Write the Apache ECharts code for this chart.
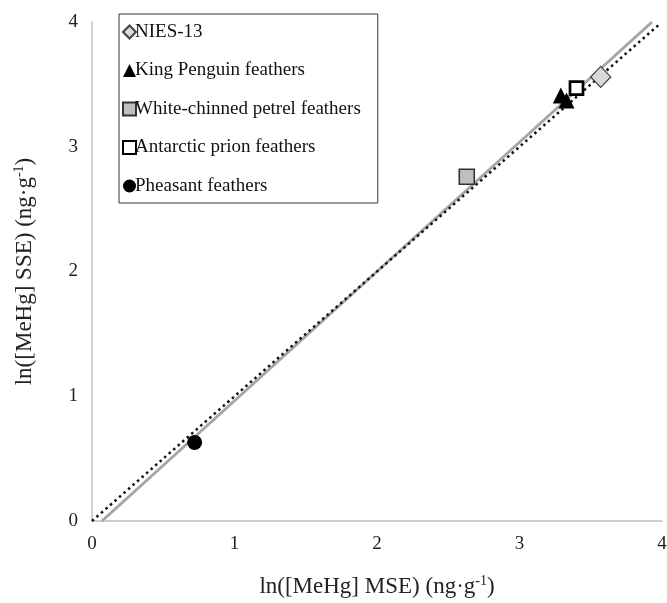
<!DOCTYPE html>
<html><head><meta charset="utf-8">
<script src="https://cdn.jsdelivr.net/npm/echarts@6/dist/echarts.min.js"></script>
<style>html,body{margin:0;padding:0;background:#fff}#c{width:667px;height:603px}</style>
</head><body><div id="c"></div>
<script>
const xTicks = [0, 1, 2, 3, 4];
const yTicks = [0, 1, 2, 3, 4];
const seriesNames = ['NIES-13', 'King Penguin feathers', 'White-chinned petrel feathers', 'Antarctic prion feathers', 'Pheasant feathers'];
const niesData = [[3.57, 3.56]];
const kingPenguinData = [[3.29, 3.41], [3.33, 3.37]];
const whiteChinnedData = [[2.63, 2.76]];
const antarcticPrionData = [[3.40, 3.47]];
const pheasantData = [[0.72, 0.63]];
const regressionLine = [[0.07, 0], [3.93, 4]];
const oneToOneLine = [[0, 0], [3.99, 3.99]];

const font = '"Liberation Serif","Times New Roman",serif';
const chart = echarts.init(document.getElementById('c'));
chart.setOption({
  animation: false,
  backgroundColor: '#fff',
  grid: {left: 92, right: 5, top: 22, bottom: 82, containLabel: false, outerBoundsMode: 'none'},
  xAxis: {
    type: 'value', min: xTicks[0], max: xTicks[xTicks.length - 1], interval: 1,
    axisLine: {lineStyle: {color: '#bfbfbf', width: 1.5}},
    axisTick: {show: false}, splitLine: {show: false},
    axisLabel: {fontFamily: font, fontSize: 19, color: '#222', margin: 14},
    name: '{a|ln([MeHg] MSE) (ng·g}{s|-1}{a|)}', nameLocation: 'middle', nameGap: 53,
    nameTextStyle: {rich: {
      a: {fontFamily: font, fontSize: 23, color: '#222'},
      s: {fontFamily: font, fontSize: 14, color: '#222', padding: [0, 0, 11, 0]}
    }}
  },
  yAxis: {
    type: 'value', min: yTicks[0], max: yTicks[yTicks.length - 1], interval: 1,
    axisLine: {show: true, lineStyle: {color: '#bfbfbf', width: 1.5}},
    axisTick: {show: false}, splitLine: {show: false},
    axisLabel: {fontFamily: font, fontSize: 19, color: '#222', margin: 14},
    name: '{a|ln([MeHg] SSE) (ng·g}{s|-1}{a|)}', nameLocation: 'middle', nameGap: 55,
    nameTextStyle: {rich: {
      a: {fontFamily: font, fontSize: 23, color: '#222'},
      s: {fontFamily: font, fontSize: 14, color: '#222', padding: [0, 0, 11, 0]}
    }}
  },
  legend: {
    data: seriesNames, orient: 'vertical', left: 119, top: 14,
    borderColor: '#333', borderWidth: 1, padding: [8, 17, 7, 3],
    itemWidth: 13, itemHeight: 13, itemGap: 18.5,
    textStyle: {fontFamily: font, fontSize: 19, lineHeight: 20, color: '#111', padding: [0, 0, 0, -6]}
  },
  series: [
    {type: 'line', data: regressionLine, symbol: 'none', z: 1,
     lineStyle: {color: '#a6a6a6', width: 3}},
    {type: 'line', data: oneToOneLine, symbol: 'none', z: 1,
     lineStyle: {color: '#111', width: 2.5, type: [2.5, 3.5]}},
    {name: seriesNames[0], type: 'scatter', data: niesData, symbol: 'diamond', symbolSize: [20, 21], z: 3,
     itemStyle: {color: '#d9d9d9', borderColor: '#444', borderWidth: 1.3, opacity: 1}},
    {name: seriesNames[1], type: 'scatter', data: kingPenguinData, symbol: 'triangle', symbolSize: 16, z: 3,
     itemStyle: {color: '#000', opacity: 1}},
    {name: seriesNames[2], type: 'scatter', data: whiteChinnedData, symbol: 'rect', symbolSize: 15, z: 3,
     itemStyle: {color: '#bfbfbf', borderColor: '#333', borderWidth: 1.6, opacity: 1}},
    {name: seriesNames[3], type: 'scatter', data: antarcticPrionData, symbol: 'rect', symbolSize: 13, z: 3,
     itemStyle: {color: '#fff', borderColor: '#000', borderWidth: 2.7, opacity: 1}},
    {name: seriesNames[4], type: 'scatter', data: pheasantData, symbol: 'circle', symbolSize: 15, z: 3,
     itemStyle: {color: '#000', opacity: 1}}
  ]
});
</script></body></html>
